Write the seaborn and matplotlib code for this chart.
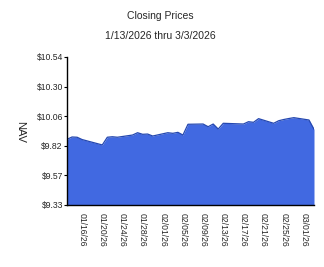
import matplotlib
matplotlib.use("Agg")
import matplotlib.pyplot as plt
import matplotlib.dates as mdates
import seaborn as sns
import pandas as pd

dates = ["2026-01-13", "2026-01-14", "2026-01-15", "2026-01-16", "2026-01-20",
         "2026-01-21", "2026-01-22", "2026-01-23", "2026-01-26", "2026-01-27",
         "2026-01-28", "2026-01-29", "2026-01-30", "2026-02-02", "2026-02-03",
         "2026-02-04", "2026-02-05", "2026-02-06", "2026-02-09", "2026-02-10",
         "2026-02-11", "2026-02-12", "2026-02-13", "2026-02-17", "2026-02-18",
         "2026-02-19", "2026-02-20", "2026-02-23", "2026-02-24", "2026-02-25",
         "2026-02-26", "2026-02-27", "2026-03-02", "2026-03-03"]
nav = [9.867, 9.886, 9.884, 9.865, 9.821,
       9.884, 9.888, 9.884, 9.902, 9.921,
       9.908, 9.910, 9.894, 9.921, 9.916,
       9.924, 9.902, 9.990, 9.992, 9.970,
       9.992, 9.951, 9.998, 9.992, 10.011,
       10.006, 10.036, 9.998, 10.019, 10.029,
       10.037, 10.044, 10.025, 9.949]

y_min, y_max = 9.33, 10.54
y_tick_labels = ["$9.33", "$9.57", "$9.82", "$10.06", "$10.30", "$10.54"]
x_tick_dates = ["2026-01-16", "2026-01-20", "2026-01-24", "2026-01-28",
                "2026-02-01", "2026-02-05", "2026-02-09", "2026-02-13",
                "2026-02-17", "2026-02-21", "2026-02-25", "2026-03-01"]

sns.set_style("white")
plt.rcParams["font.family"] = ["Liberation Sans", "DejaVu Sans"]

df = pd.DataFrame({"Date": pd.to_datetime(dates), "NAV": nav})

fig = plt.figure(figsize=(3.24, 2.67), dpi=100)
ax = fig.add_axes([67 / 324, 1 - 205 / 267, (314 - 67) / 324, (205 - 57) / 267])

ax.fill_between(df["Date"], df["NAV"], y_min, color="#4169E1", linewidth=0)
sns.lineplot(data=df, x="Date", y="NAV", ax=ax, color="#2447b0", linewidth=0.9)

ax.set_xlim(pd.Timestamp("2026-01-13"), pd.Timestamp("2026-03-03"))
ax.set_ylim(y_min, y_max)
step = (y_max - y_min) / (len(y_tick_labels) - 1)
ax.set_yticks([y_min + i * step for i in range(len(y_tick_labels))])
ax.set_yticklabels(y_tick_labels, fontsize=6.2)
ax.set_xticks(pd.to_datetime(x_tick_dates))
ax.xaxis.set_major_formatter(mdates.DateFormatter("%m/%d/%y"))
plt.setp(ax.get_xticklabels(), rotation=-90, fontsize=6.2, ha="center", va="top")
ax.tick_params(axis="x", length=0, pad=6)
ax.tick_params(axis="y", length=2, width=0.8, color="black", pad=1, left=True)

for s in ["top", "right"]:
    ax.spines[s].set_visible(False)
for s in ["left", "bottom"]:
    ax.spines[s].set_color("black")
    ax.spines[s].set_linewidth(1.0)
ax.grid(False)

ax.set_xlabel("")
ax.set_ylabel("")
fig.text(20 / 324, 1 - 132 / 267, "NAV", rotation=270, fontsize=8,
         ha="center", va="center")
fig.text(160 / 324, 1 - 16 / 267, "Closing Prices", fontsize=7.5,
         ha="center", va="center")
fig.text(160 / 324, 1 - 36 / 267, "1/13/2026 thru 3/3/2026", fontsize=7.5,
         ha="center", va="center")

fig.savefig("out.png", dpi=100)
